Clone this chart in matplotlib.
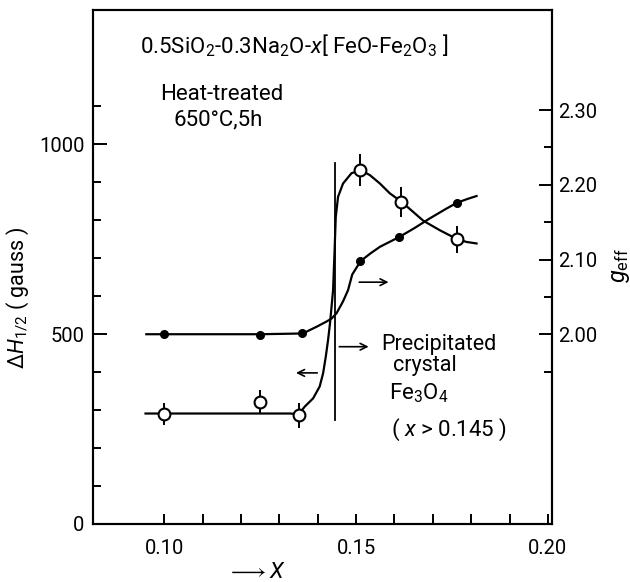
import matplotlib
matplotlib.use("Agg")
import matplotlib.pyplot as plt

plt.rcParams['font.family'] = ['Roboto', 'DejaVu Sans']
plt.rcParams['mathtext.fontset'] = 'custom'
plt.rcParams['mathtext.rm'] = 'Roboto'
plt.rcParams['mathtext.it'] = 'Roboto:italic'
plt.rcParams['mathtext.bf'] = 'Roboto:bold'

# measured points, dH_1/2 (open circles, left axis)
dh_x = [0.100, 0.125, 0.135, 0.151, 0.1618, 0.1764]
dh_val = [290, 322, 287, 932, 849, 750]
dh_err = [28, 31, 33, 42, 40, 35]

# measured points, g_eff (filled circles, right axis)
g_x = [0.100, 0.125, 0.136, 0.151, 0.1612, 0.1763]
g_val = [2.000, 1.999, 2.001, 2.098, 2.130, 2.176]

# hand drawn curves
dh_curve_x = [0.0951, 0.1100, 0.1250, 0.1328, 0.1350, 0.1366, 0.1388, 0.1405,
              0.1414, 0.1421, 0.1427, 0.1432, 0.1436, 0.1440, 0.1442, 0.1444,
              0.1447, 0.1453, 0.1466, 0.1488, 0.1512, 0.1536, 0.1562, 0.1588,
              0.1618, 0.1649, 0.1675, 0.1718, 0.1764, 0.1788, 0.1814]
dh_curve_y = [291, 291, 291, 291, 289, 309, 331, 362,
              397, 441, 485, 529, 572, 616, 670, 722,
              809, 862, 897, 924, 932, 919, 897, 871,
              849, 822, 799, 774, 750, 743, 739]

g_curve_x = [0.0953, 0.1100, 0.1250, 0.1361, 0.1397, 0.1423, 0.1436, 0.1449,
             0.1466, 0.1479, 0.1490, 0.1512, 0.1537, 0.1562, 0.1612, 0.1652,
             0.1692, 0.1735, 0.1763, 0.1790, 0.1814]
g_curve_y = [2.000, 2.000, 2.000, 2.001, 2.010, 2.017, 2.021, 2.028,
             2.044, 2.059, 2.080, 2.098, 2.108, 2.117, 2.130, 2.142,
             2.155, 2.168, 2.176, 2.181, 2.185]

# precipitation boundary
x_boundary = 0.1445
boundary_span = [274, 950]

fig = plt.figure(figsize=(6.3, 5.82), dpi=100)
ax = fig.add_axes([0.1476, 0.0997, 0.7281, 0.8831])
ax2 = ax.twinx()

lw = 1.6
ax.plot(dh_curve_x, dh_curve_y, color='black', lw=lw, zorder=2)
ax.errorbar(dh_x, dh_val, yerr=dh_err, fmt='o', ms=8.5, mfc='white', mec='black',
            mew=1.5, ecolor='black', elinewidth=1.4, capsize=0, zorder=3)
ax2.plot(g_curve_x, g_curve_y, color='black', lw=lw, zorder=2)
ax2.plot(g_x, g_val, 'o', ms=5.5, color='black', zorder=3)

ax.plot([x_boundary, x_boundary], boundary_span, color='black', lw=1.3)

arr = dict(arrowstyle='->', color='black', lw=1.2, mutation_scale=12)
ax.annotate('', xy=(0.1540, 467), xytext=(0.1449, 467), arrowprops=arr)
ax.annotate('', xy=(0.1592, 637), xytext=(0.1501, 637), arrowprops=arr)
ax.annotate('', xy=(0.1336, 398), xytext=(0.1406, 398), arrowprops=arr)

fs = 16
ax.text(0.0936, 1240, r'0.5SiO$_2$-0.3Na$_2$O-$x$[ FeO-Fe$_2$O$_3$ ]', fontsize=fs,
        ha='left', va='baseline')
ax.text(0.1150, 1117, 'Heat-treated', fontsize=fs, ha='center', va='baseline')
ax.text(0.1140, 1051, '650°C,5h', fontsize=fs, ha='center', va='baseline')
ax.text(0.1566, 458, 'Precipitated', fontsize=15.5, ha='left', va='baseline')
ax.text(0.1595, 402, 'crystal', fontsize=15.5, ha='left', va='baseline')
ax.text(0.1587, 327, r'Fe$_3$O$_4$', fontsize=fs, ha='left', va='baseline')
ax.text(0.1592, 232, r'( $x$ > 0.145 )', fontsize=fs, ha='left', va='baseline')

ax.set_xlim(0.0814, 0.201)
ax.set_ylim(0, 1354)
ax2.set_ylim(1.746, 2.434)

ax.set_xticks([0.10, 0.15, 0.20])
ax.set_xticklabels(['0.10', '0.15', '0.20'])
ax.set_xticks([0.11, 0.12, 0.13, 0.14, 0.16, 0.17, 0.18, 0.19], minor=True)
ax.set_yticks([0, 500, 1000])
ax.set_yticks([100, 200, 300, 400, 600, 700, 800, 900, 1100], minor=True)
ax2.set_yticks([2.00, 2.10, 2.20, 2.30])
ax2.set_yticklabels(['2.00', '2.10', '2.20', '2.30'])
ax2.set_yticks([1.95, 2.05, 2.15, 2.25], minor=True)

ax.tick_params(axis='x', which='both', direction='in', length=7, width=1.4,
               labelsize=14.5, pad=11)
ax.tick_params(axis='y', which='major', direction='in', length=10, width=1.4,
               labelsize=14.5, pad=6)
ax.tick_params(axis='y', which='minor', direction='in', length=5.8, width=1.4)
ax2.tick_params(axis='y', which='major', direction='in', length=9.5, width=1.4,
                labelsize=14.5, pad=4.5)
ax2.tick_params(axis='y', which='minor', direction='in', length=5.8, width=1.4)

for a in (ax, ax2):
    for s in a.spines.values():
        s.set_linewidth(1.5)

ax.set_ylabel(r'$\Delta H_{1/2}$ ( gauss )', fontsize=15.5, va='center')
ax.yaxis.set_label_coords(-0.1635, 0.44)
ax2.set_ylabel(r'$g_{\mathrm{eff}}$', fontsize=17, va='center')
ax2.yaxis.set_label_coords(1.149, 0.504)
ax.set_xlabel(r'$\longrightarrow X$', fontsize=16, va='center')
ax.xaxis.set_label_coords(0.3575, -0.0953)

fig.savefig('out.png', dpi=100)
